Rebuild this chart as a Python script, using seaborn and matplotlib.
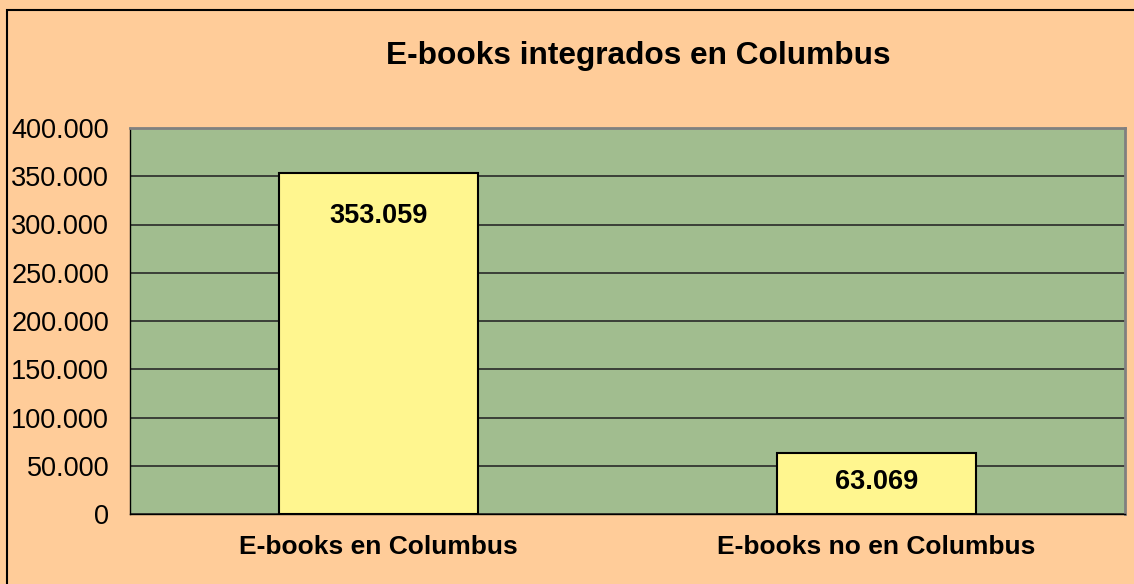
import matplotlib
matplotlib.use("Agg")
import matplotlib.pyplot as plt
import matplotlib.ticker as mticker
import seaborn as sns
import pandas as pd

categories = ["E-books en Columbus", "E-books no en Columbus"]
values = [353059, 63069]
title = "E-books integrados en Columbus"

df = pd.DataFrame({"cat": categories, "val": values})

sns.set_style("white")
plt.rcParams["font.family"] = ["Liberation Sans", "DejaVu Sans"]
plt.rcParams["text.color"] = "black"
plt.rcParams["xtick.color"] = "black"
plt.rcParams["ytick.color"] = "black"

fig = plt.figure(figsize=(11.34, 5.84), dpi=100, facecolor="#FFCC99")
ax = fig.add_axes([130 / 1134, 1 - 514 / 584, 995 / 1134, 386 / 584])
ax.set_facecolor("#A1BD8F")

sns.barplot(data=df, x="cat", y="val", ax=ax, color="#FFF68F", width=0.4,
            edgecolor="black", linewidth=1.5, saturation=1, zorder=3)

ax.set_ylim(0, 400000)
ax.set_xlim(-0.5, 1.5)
ax.yaxis.set_major_locator(mticker.MultipleLocator(50000))
ax.yaxis.set_major_formatter(mticker.FuncFormatter(lambda v, p: f"{int(v):,}".replace(",", ".")))
ax.grid(axis="y", color="#2a2a2a", linewidth=1.2, zorder=1)
ax.set_axisbelow(True)

# category boundary ticks, labels centred under bars
ax.set_xticks([-0.5, 0.5, 1.5])
ax.set_xticklabels([])
ax.set_xticks([0, 1], minor=True)
ax.set_xticklabels(categories, minor=True, fontsize=19, fontweight="bold")
ax.tick_params(axis="x", which="minor", length=0, pad=15)
ax.tick_params(axis="x", which="major", length=5, width=1, direction="out")
ax.tick_params(axis="y", length=5, width=1, direction="out", labelsize=19.5, pad=10)
ax.set_xlabel("")
ax.set_ylabel("")

for side in ["left", "bottom"]:
    ax.spines[side].set_color("black")
    ax.spines[side].set_linewidth(1)
for side in ["top", "right"]:
    ax.spines[side].set_color("#808080")
    ax.spines[side].set_linewidth(2)

offsets = [-31, -21]
for i, v in enumerate(values):
    ax.annotate(f"{v:,}".replace(",", "."), (i, v), xytext=(0, offsets[i]),
                textcoords="offset points", ha="center", va="center",
                fontsize=19.5, fontweight="bold", zorder=5)

fig.text(638 / 1134, 1 - 56 / 584, title, ha="center", va="center",
         fontsize=22.8, fontweight="bold")

# outer frame (left and top edges visible)
fig.patches.append(plt.Rectangle((7 / 1134, -0.1), 1.2, (584 - 10) / 584 + 0.1,
                                 transform=fig.transFigure, fill=False,
                                 edgecolor="black", linewidth=1.5))

fig.savefig("out.png", dpi=100, facecolor=fig.get_facecolor())
